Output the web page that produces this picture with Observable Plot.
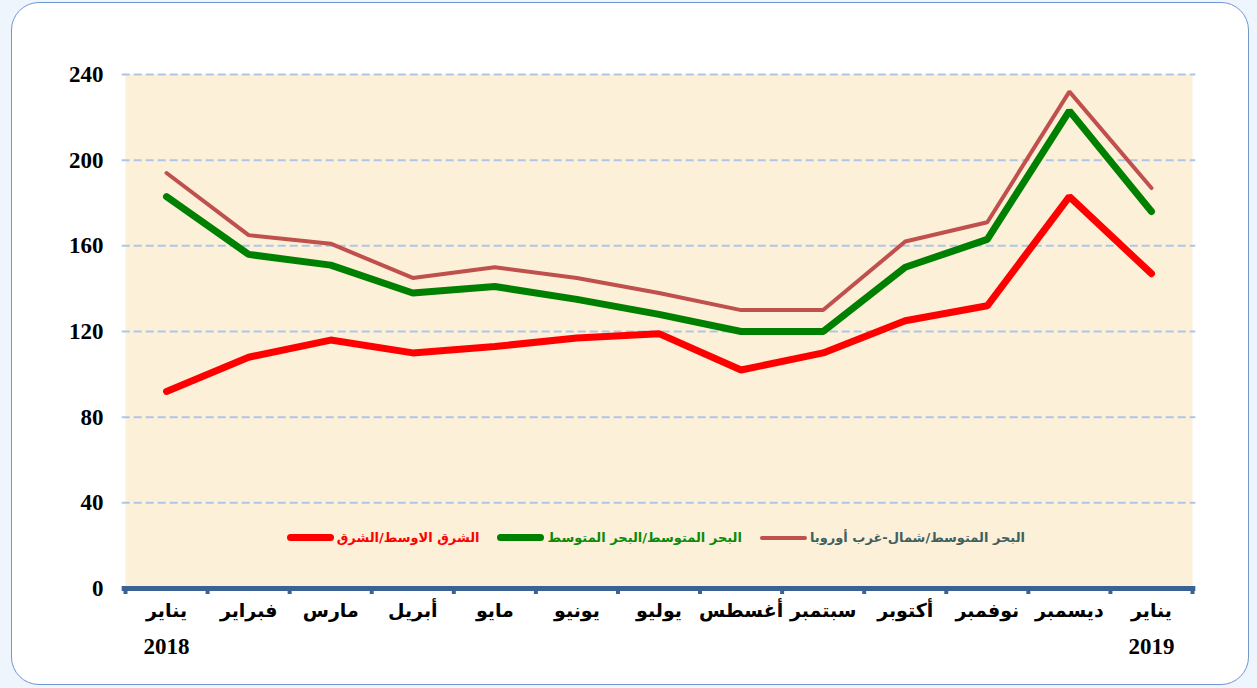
<!DOCTYPE html>
<html><head><meta charset="utf-8">
<script src="https://cdn.jsdelivr.net/npm/d3@7"></script>
<script src="https://cdn.jsdelivr.net/npm/@observablehq/plot@0.6"></script>
<style>
html,body{margin:0;padding:0;width:1257px;height:688px;overflow:hidden;background:#eef5fc;}
#frame{position:absolute;left:11px;top:2px;width:1236px;height:681px;border:1.5px solid #6e96cf;border-radius:28px;background:#fff;}
#chart{position:absolute;left:0;top:0;}
#legend{position:absolute;top:530px;right:232px;direction:rtl;display:flex;align-items:center;font-family:"DejaVu Sans",sans-serif;font-weight:bold;font-size:13px;}
.item{display:flex;align-items:center;margin-left:18px;}
.sw{display:inline-block;width:47px;border-radius:5px;margin-right:3px;}
</style></head>
<body>
<div id="frame"></div>
<div id="chart"></div>
<div id="legend"></div>
<script>
const months = ["يناير","فبراير","مارس","أبريل","مايو","يونيو","يوليو","أغسطس","سبتمبر","أكتوبر","نوفمبر","ديسمبر","يناير"];
const years = [[0,"2018"],[12,"2019"]];
const seriesNames = ["البحر المتوسط/شمال-غرب أوروبا","البحر المتوسط/البحر المتوسط","الشرق الاوسط/الشرق"];
const medNWE = [194,165,161,145,150,145,138,130,130,162,171,232,187];
const medMed = [183,156,151,138,141,135,128,120,120,150,163,223,176];
const meEast = [92,108,116,110,113,117,119,102,110,125,132,183,147];
const yTicks = [0,40,80,120,160,200,240];
const colors = ["#c0504d","#008000","#ff0000"];
const widths = [4,7,7];
const textColors = ["#3d6060","#0a8a0a","#ff0000"];

const idx = months.map((_, i) => i);
const all = [medNWE, medMed, meEast];
const bounds = d3.range(-0.5, months.length, 1);

const font = '"Liberation Serif","DejaVu Sans",serif';
const plot = Plot.plot({
  width: 1257, height: 688,
  marginLeft: 125, marginRight: 65, marginTop: 74, marginBottom: 100,
  style: {fontFamily: font, fontSize: "20px", fontWeight: "bold", color: "#000", background: "transparent"},
  x: {type: "linear", domain: [-0.5, months.length - 0.5]},
  y: {domain: [0, 240]},
  marks: [
    Plot.frame({fill: "#fcf0d8", stroke: null}),
    Plot.gridY(yTicks, {stroke: "#aec5e6", strokeOpacity: 1, strokeWidth: 2, strokeDasharray: "8,4", x1: -0.54, x2: months.length - 0.46}),
    Plot.axisY(yTicks, {tickSize: 0, tickPadding: 22, tickFormat: d => String(d), fontSize: 23, fontWeight: "bold", label: null}),
    ...all.map((vals, s) => Plot.line(idx, {x: d => d, y: d => vals[d], stroke: colors[s], strokeWidth: widths[s], strokeLinecap: "round", strokeLinejoin: "miter"})),
    Plot.axisX(bounds, {tickSize: 6, stroke: "#3b6294", strokeWidth: 4, tickFormat: () => "", label: null}),
    Plot.ruleY([0], {stroke: "#3b6294", strokeWidth: 5, x1: -0.54, x2: months.length - 0.46}),
    Plot.axisX(idx, {tickSize: 0, tickPadding: 15, tickFormat: i => months[i], fontSize: 19, fontWeight: "bold", label: null}),
    Plot.axisX(years.map(d => d[0]), {tickSize: 0, tickPadding: 49, tickFormat: i => years.find(d => d[0] === i)[1], fontSize: 23, fontWeight: "bold", label: null})
  ]
});
document.getElementById("chart").appendChild(plot);

const lg = document.getElementById("legend");
seriesNames.forEach((n, s) => {
  const it = document.createElement("div");
  it.className = "item";
  const t = document.createElement("span");
  t.textContent = n; t.style.color = textColors[s];
  const sw = document.createElement("span");
  sw.className = "sw"; sw.style.height = widths[s] + "px"; sw.style.background = colors[s];
  it.appendChild(t); it.appendChild(sw);
  lg.appendChild(it);
});
</script>
</body></html>
